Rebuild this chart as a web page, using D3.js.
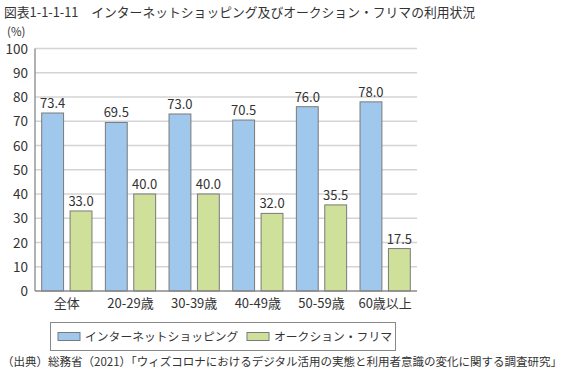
<!DOCTYPE html>
<html>
<head>
<meta charset="utf-8">
<script src="https://cdn.jsdelivr.net/npm/d3@7"></script>
<style>
  body { margin: 0; background: #fff; }
  svg text { font-family: "Noto Sans CJK JP", "Noto Sans", sans-serif; fill: #333; }
</style>
</head>
<body>
<div id="chart"></div>
<script>
// data
const categories = ['全体', '20-29歳', '30-39歳', '40-49歳', '50-59歳', '60歳以上']
const seriesNames = ['インターネットショッピング', 'オークション・フリマ']
const shopping = [73.4, 69.5, 73.0, 70.5, 76.0, 78.0]
const auction = [33.0, 40.0, 40.0, 32.0, 35.5, 17.5]
const yTicks = [0, 10, 20, 30, 40, 50, 60, 70, 80, 90, 100]

const colors = ['#a0c8ec', '#cfe09b']
const W = 574
const H = 373
const plot = { left: 35, right: 417, top: 48.5, bottom: 291 }

const svg = d3.select('#chart').append('svg')
  .attr('width', W)
  .attr('height', H)

// title
svg.append('text')
  .attr('x', 4)
  .attr('y', 17)
  .attr('font-size', 12.8)
  .text('図表1-1-1-11　インターネットショッピング及びオークション・フリマの利用状況')

svg.append('text')
  .attr('x', 7)
  .attr('y', 36)
  .attr('font-size', 11.5)
  .text('(%)')

const x = d3.scaleBand()
  .domain(categories)
  .range([plot.left, plot.right])
  .paddingInner(0)
  .paddingOuter(0)

const inner = d3.scaleBand()
  .domain([0, 1])
  .range([6.7, x.bandwidth() - 6.7])
  .paddingInner(0.23)

const y = d3.scaleLinear()
  .domain([0, 100])
  .range([plot.bottom, plot.top])

// gridlines
svg.append('g')
  .selectAll('line')
  .data(yTicks.filter(d => d > 0))
  .join('line')
  .attr('x1', plot.left)
  .attr('x2', plot.right)
  .attr('y1', d => y(d))
  .attr('y2', d => y(d))
  .style('stroke', '#d4d4d4')
  .style('stroke-width', 1.3)

// y tick labels
svg.append('g')
  .selectAll('text')
  .data(yTicks)
  .join('text')
  .attr('x', 28)
  .attr('y', d => y(d) + 5)
  .attr('text-anchor', 'end')
  .attr('font-size', 13.5)
  .text(d => d)

// bars
const series = [shopping, auction]
series.forEach(function (vals, si) {
  const g = svg.append('g')
  g.selectAll('rect')
    .data(vals)
    .join('rect')
    .attr('x', (d, i) => x(categories[i]) + inner(si))
    .attr('y', d => y(d))
    .attr('width', inner.bandwidth())
    .attr('height', d => plot.bottom - y(d))
    .style('fill', colors[si])
    .style('stroke', '#7a7a7a')
    .style('stroke-width', 1)

  g.selectAll('text')
    .data(vals)
    .join('text')
    .attr('x', (d, i) => x(categories[i]) + inner(si) + inner.bandwidth() / 2)
    .attr('y', d => y(d) - 5)
    .attr('text-anchor', 'middle')
    .attr('font-size', 13)
    .text(d => d.toFixed(1))
})

// axes lines
svg.append('line')
  .attr('x1', plot.left)
  .attr('x2', plot.left)
  .attr('y1', plot.top)
  .attr('y2', plot.bottom)
  .style('stroke', '#888')
  .style('stroke-width', 1.3)

svg.append('line')
  .attr('x1', plot.left)
  .attr('x2', plot.right)
  .attr('y1', plot.bottom)
  .attr('y2', plot.bottom)
  .style('stroke', '#888')
  .style('stroke-width', 1.3)

// x labels
svg.append('g')
  .selectAll('text')
  .data(categories)
  .join('text')
  .attr('x', d => x(d) + x.bandwidth() / 2)
  .attr('y', 308)
  .attr('text-anchor', 'middle')
  .attr('font-size', 13)
  .text(d => d)

// legend
const legend = svg.append('g')
legend.append('rect')
  .attr('x', 50.5)
  .attr('y', 322.5)
  .attr('width', 345)
  .attr('height', 28)
  .style('fill', 'none')
  .style('stroke', '#888')

const legendX = [58, 247]
seriesNames.forEach(function (name, i) {
  legend.append('rect')
    .attr('x', legendX[i])
    .attr('y', 332.5)
    .attr('width', 22)
    .attr('height', 8)
    .style('fill', colors[i])
    .style('stroke', '#7a7a7a')
  legend.append('text')
    .attr('x', legendX[i] + 27)
    .attr('y', 341)
    .attr('font-size', 11.8)
    .text(name)
})

// source
svg.append('text')
  .attr('x', 2)
  .attr('y', 366)
  .attr('font-size', 11.5)
  .text('（出典）総務省（2021）「ウィズコロナにおけるデジタル活用の実態と利用者意識の変化に関する調査研究」')
</script>
</body>
</html>
